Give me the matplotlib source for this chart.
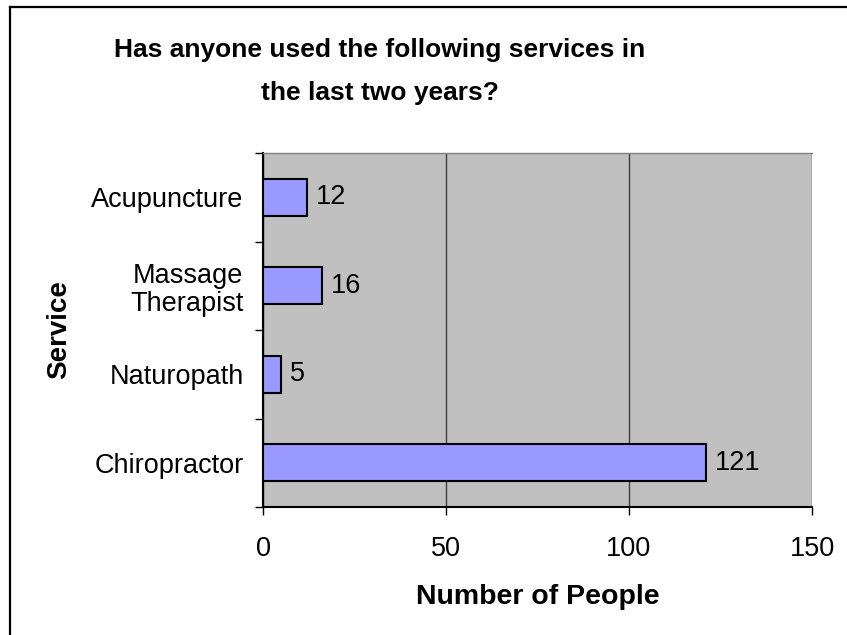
import matplotlib
matplotlib.use("Agg")
import matplotlib.pyplot as plt
from matplotlib.lines import Line2D

categories = ["Chiropractor", "Naturopath", "Massage\nTherapist", "Acupuncture"]
values = [121, 5, 16, 12]
xticks = [0, 50, 100, 150]

plt.rcParams['font.family'] = ['Liberation Sans', 'DejaVu Sans']

W, H = 847, 635
fig = plt.figure(figsize=(W / 100, H / 100), dpi=100)
ax = fig.add_axes([263 / W, 1 - 507 / H, (812 - 263) / W, (507 - 153) / H])
ax.set_facecolor("#C0C0C0")

FS = 19.5
ypos = list(range(len(categories)))
ax.barh(ypos, values, height=0.42, color="#9999FF", edgecolor="black", linewidth=1.5, zorder=3)
for y, v in zip(ypos, values):
    ax.text(v + 2.5, y, str(v), va="center", ha="left", fontsize=FS, zorder=4)

ax.set_xlim(0, 150)
ax.set_ylim(-0.5, len(categories) - 0.5)
ax.set_xticks(xticks)
ax.set_xticklabels([str(t) for t in xticks], fontsize=FS)
ax.xaxis.grid(True, color="#404040", linewidth=1, zorder=1)
ax.set_axisbelow(True)

ax.set_yticks(ypos)
ax.set_yticklabels(categories, fontsize=FS, linespacing=1.12)
ax.set_yticks([y - 0.5 for y in ypos] + [len(categories) - 0.5], minor=True)
ax.tick_params(axis="y", which="major", length=0, pad=14)
ax.tick_params(axis="y", which="minor", length=6, width=1, direction="out")
ax.tick_params(axis="x", which="major", length=6, width=1, direction="out", pad=15)

ax.spines["left"].set_linewidth(1.5)
ax.spines["bottom"].set_linewidth(1.5)
ax.spines["top"].set_color("#808080")
ax.spines["top"].set_linewidth(1)
ax.spines["right"].set_visible(False)

ax.set_xlabel("Number of People", fontsize=20.5, fontweight="bold", labelpad=16)
ax.set_ylabel("Service", fontsize=20, fontweight="bold", labelpad=14)

fig.text(380 / W, 1 - 50 / H, "Has anyone used the following services in",
         ha="center", va="center", fontsize=19, fontweight="bold")
fig.text(380 / W, 1 - 93 / H, "the last two years?",
         ha="center", va="center", fontsize=19, fontweight="bold")

# border (top and left edges)
fig.add_artist(Line2D([10 / W, 10 / W], [0, 1 - 6.5 / H], transform=fig.transFigure, color="black", linewidth=1.6))
fig.add_artist(Line2D([10 / W, 1], [1 - 6.5 / H, 1 - 6.5 / H], transform=fig.transFigure, color="black", linewidth=1.6))

fig.savefig("out.png", dpi=100)
